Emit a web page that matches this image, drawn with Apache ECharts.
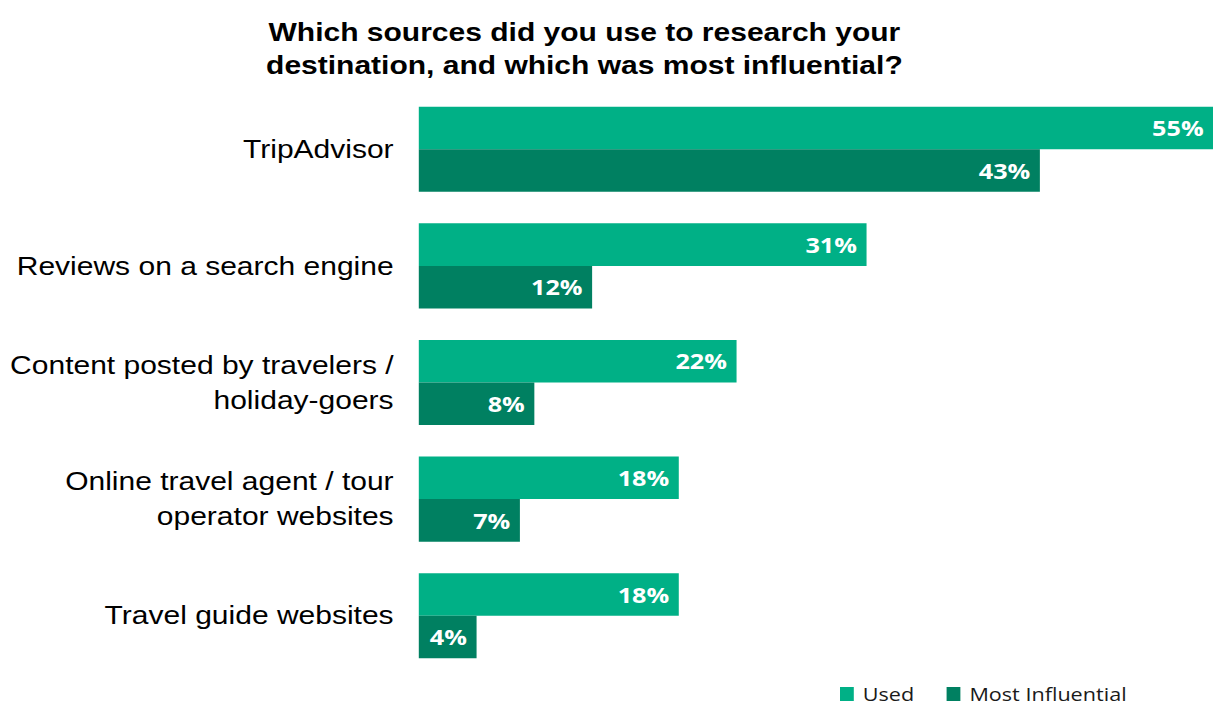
<!DOCTYPE html>
<html>
<head>
<meta charset="utf-8">
<script src="https://cdn.jsdelivr.net/npm/echarts@6/dist/echarts.min.js"></script>
<style>
html,body{margin:0;padding:0;background:#fff;overflow:hidden;}
#wrap{width:1213px;height:707px;overflow:hidden;}
#chart{width:1011px;height:707px;transform:scaleX(1.2);transform-origin:0 0;}
</style>
</head>
<body>
<div id="wrap"><div id="chart"></div></div>
<script>
const categories = [
  'TripAdvisor',
  'Reviews on a search engine',
  'Content posted by travelers /\nholiday-goers',
  'Online travel agent / tour\noperator websites',
  'Travel guide websites'
];
const usedValues = [55, 31, 22, 18, 18];
const influentialValues = [43, 12, 8, 7, 4];
const seriesNames = ['Used', 'Most Influential'];
const titleText = 'Which sources did you use to research your\ndestination, and which was most influential?';

const chart = echarts.init(document.getElementById('chart'), null, {renderer: 'svg'});
const labelCfg = {
  show: true,
  position: 'insideRight',
  distance: 8,
  color: '#ffffff',
  fontFamily: 'Open Sans',
  fontWeight: 'bold',
  fontSize: 21,
  formatter: p => p.value + '%'
};
chart.setOption({
  animation: false,
  backgroundColor: '#ffffff',
  title: {
    text: titleText,
    left: 482,
    textAlign: 'center',
    top: 11,
    textStyle: {
      fontFamily: 'Liberation Sans',
      fontWeight: 'bold',
      fontSize: 25,
      lineHeight: 33,
      color: '#000000'
    }
  },
  legend: {
    data: seriesNames,
    left: 700,
    top: 684,
    padding: 0,
    itemWidth: 11.5,
    itemHeight: 14,
    itemGap: 27,
    icon: 'rect',
    textStyle: {
      fontFamily: 'Open Sans',
      fontSize: 18,
      lineHeight: 20,
      color: '#1a1a1a',
      padding: [0, 0, 0, 2.5]
    }
  },
  grid: {
    left: 349,
    right: 0,
    top: 91,
    bottom: 33,
    containLabel: false
  },
  xAxis: {
    type: 'value',
    min: 0,
    max: 55,
    show: false,
    splitLine: {show: false}
  },
  yAxis: {
    type: 'category',
    data: categories,
    inverse: true,
    axisLine: {show: false},
    axisTick: {show: false},
    axisLabel: {
      margin: 21,
      fontFamily: 'Liberation Sans',
      fontSize: 25,
      lineHeight: 35,
      color: '#000000',
      align: 'right'
    }
  },
  series: [
    {
      name: seriesNames[0],
      type: 'bar',
      data: usedValues,
      barGap: '0%',
      barCategoryGap: '27%',
      itemStyle: {color: '#00B086'},
      label: labelCfg
    },
    {
      name: seriesNames[1],
      type: 'bar',
      data: influentialValues,
      barGap: '0%',
      barCategoryGap: '27%',
      itemStyle: {color: '#008061'},
      label: labelCfg
    }
  ]
});
</script>
</body>
</html>
